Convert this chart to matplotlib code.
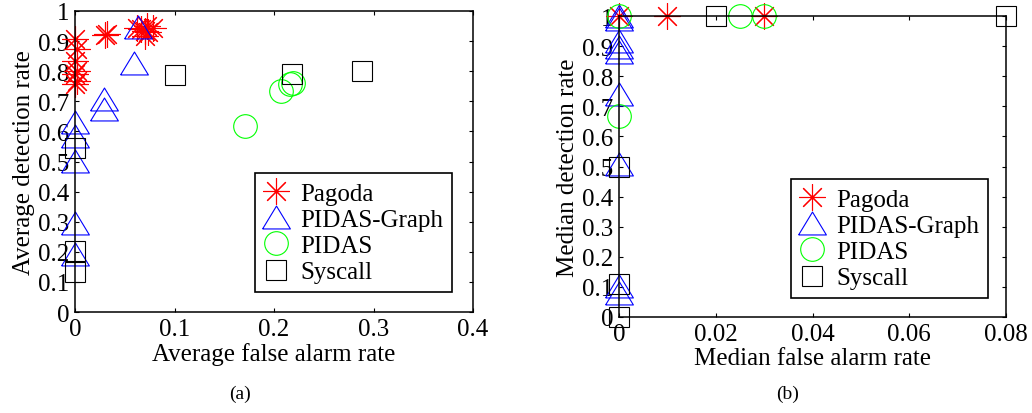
import numpy as np
import matplotlib.pyplot as plt
from matplotlib.ticker import FuncFormatter

plt.rcParams['font.family'] = ['Liberation Serif', 'DejaVu Serif']

# (a) average rates
pagoda_avg_far = [0, 0.002, 0, 0.002, 0, 0.002, 0, 0.030, 0.032, 0.062, 0.066, 0.070, 0.073, 0.078, 0.072, 0.070]
pagoda_avg_dr = [0.907, 0.874, 0.835, 0.802, 0.791, 0.769, 0.758, 0.920, 0.925, 0.945, 0.940, 0.935, 0.930, 0.945, 0.950, 0.918]
graph_avg_far = [0.063, 0.059, 0.029, 0.029, 0, 0, 0, 0, 0]
graph_avg_dr = [0.946, 0.826, 0.708, 0.674, 0.630, 0.584, 0.502, 0.296, 0.193]
pidas_avg_far = [0.171, 0.207, 0.216, 0.219]
pidas_avg_dr = [0.619, 0.735, 0.757, 0.760]
sys_avg_far = [0.101, 0.218, 0.288, 0, 0, 0]
sys_avg_dr = [0.787, 0.791, 0.800, 0.546, 0.204, 0.133]

# (b) median rates
pagoda_med_far = [0, 0.01, 0.03]
pagoda_med_dr = [1, 1, 1]
graph_med_far = [0, 0, 0, 0, 0, 0, 0, 0, 0]
graph_med_dr = [1.0, 0.99, 0.918, 0.896, 0.881, 0.741, 0.508, 0.102, 0.08]
pidas_med_far = [0, 0.025, 0.03, 0]
pidas_med_dr = [1, 1, 1, 0.667]
sys_med_far = [0.02, 0.08, 0, 0, 0]
sys_med_dr = [1, 1, 0.5, 0.11, 0]

labels = ['Pagoda', 'PIDAS-Graph', 'PIDAS', 'Syscall']

tri = [(-1, -0.825), (1, -0.825), (0, 0.825), (-1, -0.825)]
styles = [
    dict(marker=(8, 2, 0), color='#ff0000', ms=19),
    dict(marker=tri, color='#0000ff', ms=20, mfc='none'),
    dict(marker='o', color='#00ff00', ms=17, mfc='none'),
    dict(marker='s', color='black', ms=14.5, mfc='none'),
]


def fmt(v, pos):
    return '%g' % round(v, 4)


def panel(ax, data, xmax, xticks, xlabel, ylabel, legend_anchor):
    for (x, y), lab, st in zip(data, labels, styles):
        ax.plot(x, y, linestyle='none', mew=0.8, clip_on=False, label=lab, **st)
    ax.set_xlim(0, xmax)
    ax.set_ylim(0, 1)
    ax.set_xticks(xticks)
    ax.set_yticks(np.arange(0, 1.01, 0.1))
    ax.xaxis.set_major_formatter(FuncFormatter(fmt))
    ax.yaxis.set_major_formatter(FuncFormatter(fmt))
    ax.tick_params(direction='in', length=3, width=0.8, labelsize=18,
                   top=True, right=True, pad=4)
    for s in ax.spines.values():
        s.set_linewidth(1.1)
    ax.set_xlabel(xlabel, fontsize=18, labelpad=2)
    ax.set_ylabel(ylabel, fontsize=18, labelpad=2)
    leg = ax.legend(loc='lower right', bbox_to_anchor=legend_anchor, borderaxespad=0,
                    fontsize=18, numpoints=1, handlelength=1.0, handletextpad=0.45,
                    labelspacing=0.15, borderpad=0.35, fancybox=False, framealpha=1)
    leg.get_frame().set_edgecolor('black')
    leg.get_frame().set_linewidth(1.2)


fig = plt.figure(figsize=(10.32, 4.14), dpi=100)
ax1 = fig.add_axes([75 / 1032, 1 - 313 / 414, 398 / 1032, 301 / 414])
ax2 = fig.add_axes([619 / 1032, 1 - 318 / 414, 387 / 1032, 301 / 414])

panel(ax1, [(pagoda_avg_far, pagoda_avg_dr), (graph_avg_far, graph_avg_dr),
            (pidas_avg_far, pidas_avg_dr), (sys_avg_far, sys_avg_dr)],
      0.4, [0, 0.1, 0.2, 0.3, 0.4], 'Average false alarm rate', 'Average detection rate',
      (0.947, 0.066))
panel(ax2, [(pagoda_med_far, pagoda_med_dr), (graph_med_far, graph_med_dr),
            (pidas_med_far, pidas_med_dr), (sys_med_far, sys_med_dr)],
      0.08, [0, 0.02, 0.04, 0.06, 0.08], 'Median false alarm rate', 'Median detection rate',
      (0.953, 0.063))

fig.text(240 / 1032, 1 - 394 / 414, '(a)', ha='center', va='center', fontsize=14)
fig.text(788 / 1032, 1 - 394 / 414, '(b)', ha='center', va='center', fontsize=14)

fig.savefig('out.png', dpi=100)
